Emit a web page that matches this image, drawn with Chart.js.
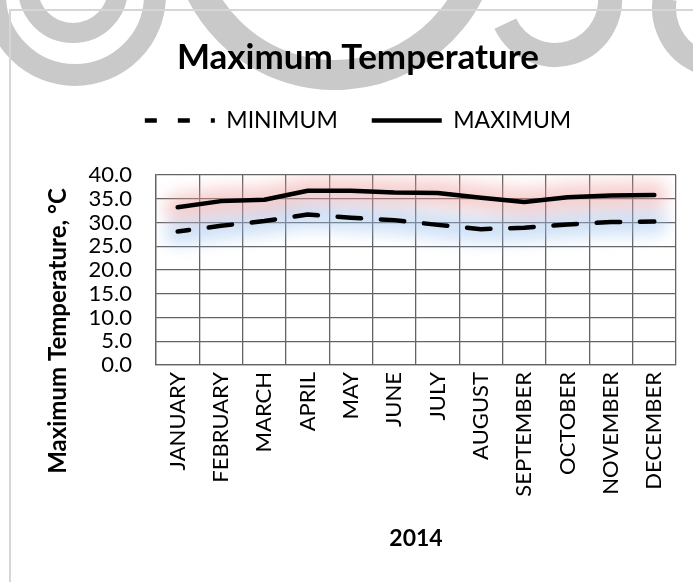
<!DOCTYPE html>
<html>
<head>
<meta charset="utf-8">
<script src="https://cdn.jsdelivr.net/npm/chart.js@4.4.0/dist/chart.umd.min.js"></script>
<style>
  html, body { margin: 0; padding: 0; background: #fff; overflow: hidden; }
  #wrap { position: relative; width: 693px; height: 582px; }
  canvas { display: block; }
</style>
</head>
<body>
<div id="wrap"><canvas id="chart" width="693" height="582"></canvas></div>
<script>
// Monthly temperatures, 2014 (°C)
const months = ['JANUARY', 'FEBRUARY', 'MARCH', 'APRIL', 'MAY', 'JUNE',
                'JULY', 'AUGUST', 'SEPTEMBER', 'OCTOBER', 'NOVEMBER', 'DECEMBER'];
const minimumTemps = [28.1, 29.3, 30.3, 31.7, 31.0, 30.5, 29.5, 28.6, 28.9, 29.6, 30.1, 30.2];
const maximumTemps = [33.2, 34.5, 34.8, 36.7, 36.7, 36.3, 36.2, 35.2, 34.3, 35.3, 35.7, 35.8];
const yTickValues = [0, 5, 10, 15, 20, 25, 30, 35, 40];

const FAMILY = 'Lato, "Noto Sans", "DejaVu Sans", sans-serif';
const GRID = '#646464';

// Soft coloured halo under each series line
const haloColors = ['rgba(150,190,238,0.45)', 'rgba(238,150,150,0.45)'];
const haloPlugin = {
  id: 'halo',
  beforeDatasetsDraw(chart) {
    const { ctx, chartArea } = chart;
    ctx.save();
    ctx.beginPath();
    ctx.rect(chartArea.left, chartArea.top, chartArea.right - chartArea.left, chartArea.bottom - chartArea.top);
    ctx.clip();
    ctx.filter = 'blur(8px)';
    ctx.lineWidth = 27;
    ctx.lineCap = 'round';
    ctx.lineJoin = 'round';
    chart.data.datasets.forEach((ds, i) => {
      const pts = chart.getDatasetMeta(i).data;
      ctx.strokeStyle = haloColors[i];
      ctx.beginPath();
      pts.forEach((p, k) => (k ? ctx.lineTo(p.x, p.y) : ctx.moveTo(p.x, p.y)));
      ctx.stroke();
    });
    ctx.restore();
  }
};

// Grey backdrop emblem, outer frame and rotated value-axis caption
const framePlugin = {
  id: 'frame',
  beforeDraw(chart) {
    const { ctx } = chart;
    ctx.save();
    ctx.strokeStyle = '#c9c9c9';
    ctx.lineCap = 'butt';
    const arcs = [
      // [cx, cy, r, width, startAngle, endAngle]
      [75, -5, 80, 22, 0, Math.PI * 2],
      [73, -12, 45, 20, 0, Math.PI * 2],
      [335, -75, 150, 30, 0.3, Math.PI - 0.3],
      [555, 0, 55, 24, -0.3, 2.7],
      [722, 8, 58, 24, 1.2, 3.3]
    ];
    arcs.forEach(([cx, cy, r, w, a0, a1]) => {
      ctx.lineWidth = w;
      ctx.beginPath();
      ctx.arc(cx, cy, r, a0, a1);
      ctx.stroke();
    });
    ctx.strokeStyle = '#d6d6d6';
    ctx.lineWidth = 2;
    ctx.beginPath();
    ctx.moveTo(10, chart.height);
    ctx.lineTo(10, 10);
    ctx.lineTo(chart.width, 10);
    ctx.stroke();
    ctx.restore();
  },
  afterDraw(chart) {
    const { ctx } = chart;
    ctx.save();
    ctx.translate(58, 331);
    ctx.rotate(-Math.PI / 2);
    ctx.font = 'bold 24px ' + FAMILY;
    ctx.fillStyle = '#000';
    ctx.textAlign = 'center';
    ctx.textBaseline = 'middle';
    ctx.fillText('Maximum Temperature, °C', 0, 0);
    ctx.restore();
  }
};

new Chart(document.getElementById('chart'), {
  type: 'line',
  data: {
    labels: months,
    datasets: [
      {
        label: 'MINIMUM',
        data: minimumTemps,
        borderColor: '#000',
        backgroundColor: '#000',
        borderWidth: 4.5,
        borderDash: [23.5, 19.8],
        borderDashOffset: 12,
        borderCapStyle: 'round',
        borderJoinStyle: 'round',
        pointRadius: 0,
        tension: 0,
        xAxisID: 'x'
      },
      {
        label: 'MAXIMUM',
        data: maximumTemps,
        borderColor: '#000',
        backgroundColor: '#000',
        borderWidth: 4.5,
        borderCapStyle: 'round',
        borderJoinStyle: 'round',
        pointRadius: 0,
        tension: 0,
        xAxisID: 'x'
      }
    ]
  },
  options: {
    responsive: false,
    animation: false,
    devicePixelRatio: 1,
    layout: { padding: { left: 40, right: 17, top: 0, bottom: 0 } },
    plugins: {
      tooltip: { enabled: false },
      title: {
        display: true,
        text: 'Maximum Temperature',
        color: '#000',
        font: { family: FAMILY, size: 35, weight: 'bold', lineHeight: 1.0 },
        padding: { top: 40, bottom: 0 }
      },
      legend: {
        display: true,
        position: 'top',
        labels: {
          color: '#000',
          font: { family: FAMILY, size: 23 },
          usePointStyle: true,
          pointStyle: 'line',
          pointStyleWidth: 70,
          padding: 34,
          generateLabels(chart) {
            const items = Chart.defaults.plugins.legend.labels.generateLabels(chart);
            items.forEach(it => {
              it.pointStyle = 'line';
              if (it.datasetIndex === 0) { it.lineDash = [12, 21]; it.lineDashOffset = 0; }
            });
            return items;
          }
        }
      }
    },
    scales: {
      x: {
        type: 'category',
        offset: true,
        grid: { display: true, offset: true, color: GRID, lineWidth: 1.3, drawTicks: false },
        border: { display: true, color: GRID, width: 1.3 },
        ticks: {
          autoSkip: false,
          minRotation: 90,
          maxRotation: 90,
          padding: 7,
          color: '#000',
          font: { family: FAMILY, size: 22 }
        },
        title: {
          display: true,
          text: '2014',
          color: '#000',
          font: { family: FAMILY, size: 23, weight: 'bold', lineHeight: 1.2 },
          padding: { top: 0, bottom: 30 }
        },
        afterFit(scale) { scale.height = 217; }
      },
      gap: {
        type: 'category',
        position: 'top',
        display: true,
        grid: { display: false, drawTicks: false },
        border: { display: false },
        ticks: { display: false },
        afterFit(scale) { scale.height = 33; }
      },
      y: {
        min: 0,
        max: 40,
        afterBuildTicks(scale) { scale.ticks = yTickValues.map(v => ({ value: v })); },
        grid: { color: GRID, lineWidth: 1.3, drawTicks: false },
        border: { display: true, color: GRID, width: 1.3 },
        ticks: {
          autoSkip: false,
          padding: 24,
          color: '#000',
          font: { family: FAMILY, size: 22 },
          callback: v => Number(v).toFixed(1)
        },
        afterFit(scale) { scale.width = 116; }
      }
    }
  },
  plugins: [haloPlugin, framePlugin]
});
</script>
</body>
</html>
